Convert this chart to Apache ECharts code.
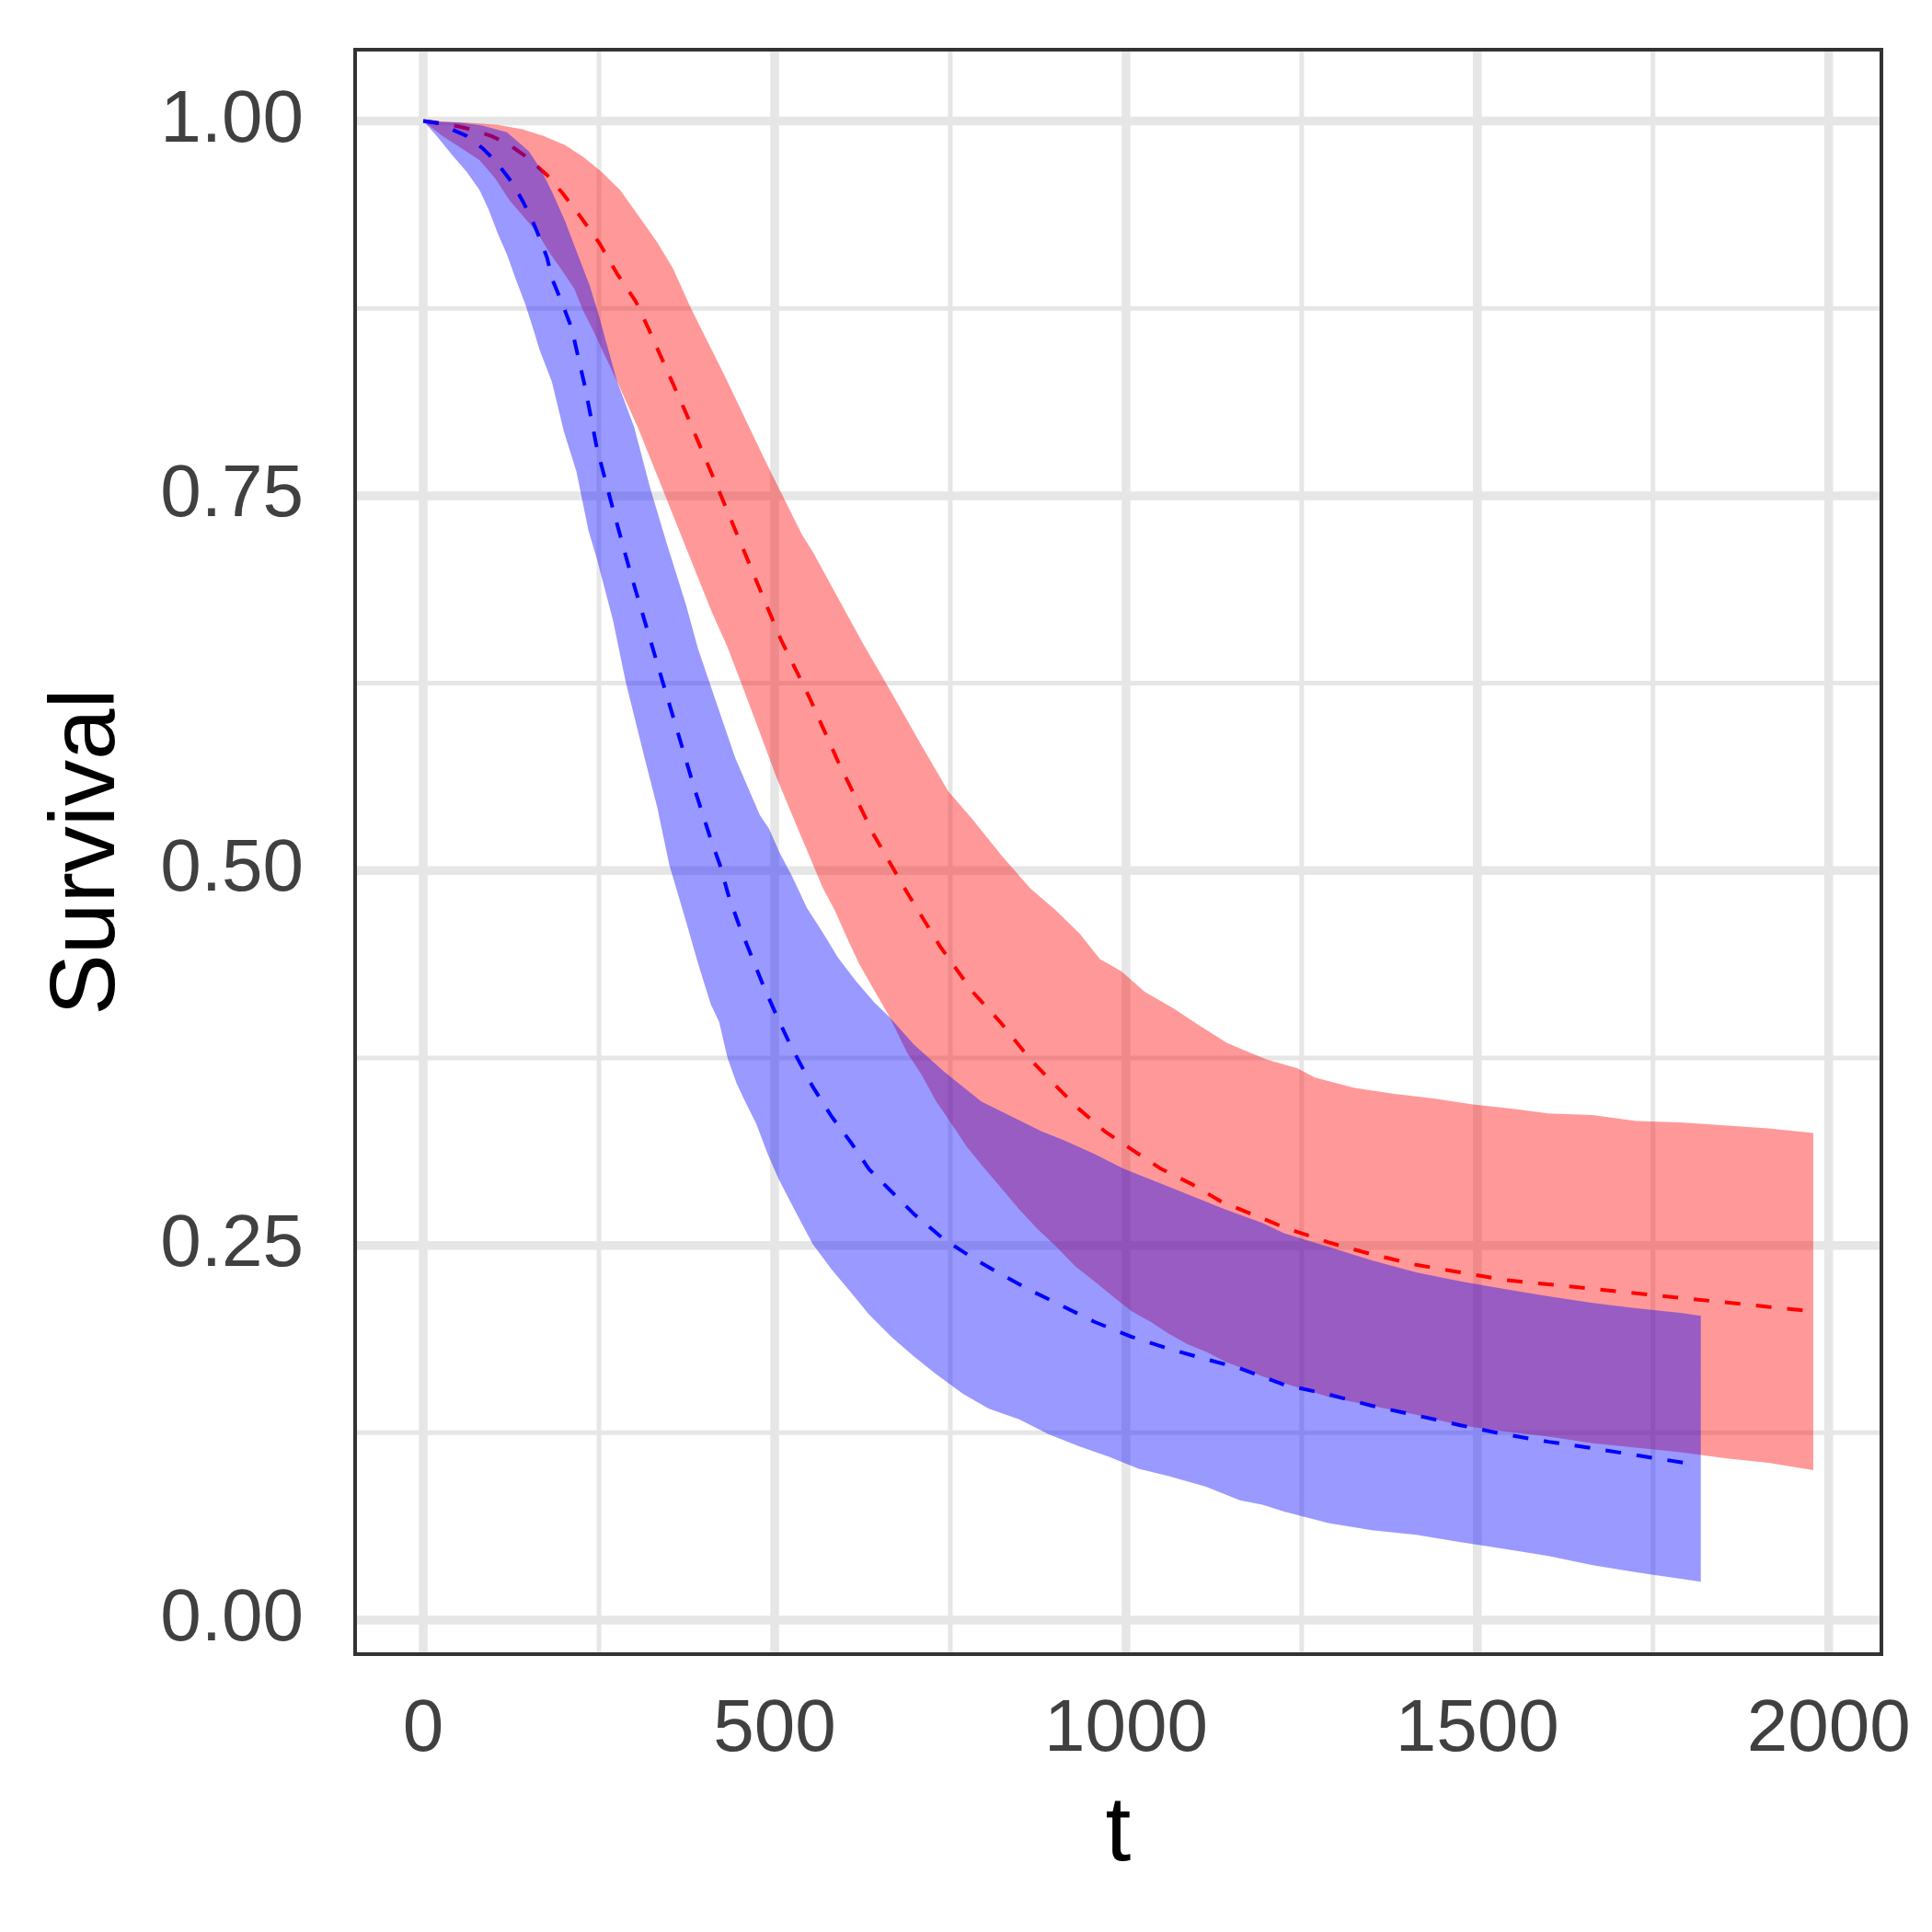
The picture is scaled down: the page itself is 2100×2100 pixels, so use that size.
<!DOCTYPE html>
<html><head><meta charset="utf-8">
<script src="https://cdn.jsdelivr.net/npm/echarts@6/dist/echarts.min.js"></script>
<style>html,body{margin:0;padding:0;background:#fff}#chart{width:2100px;height:2100px}</style>
</head><body><div id="chart"></div>
<script>
// Axis ticks / gridlines
const xTicks = [0, 500, 1000, 1500, 2000];
const xMinor = [250, 750, 1250, 1750];
const yTicks = [0, 0.25, 0.5, 0.75, 1];
const yMinor = [0.125, 0.375, 0.625, 0.875];

// Red group: [t, S]
const redUpper = [[0,1.000],[62,0.999],[106,0.9975],[141,0.9945],[171,0.990],[202,0.984],[228,0.976],[254,0.966],[280,0.954],[306,0.937],[333,0.919],[355,0.902],[381,0.875],[428,0.831],[486,0.774],[539,0.724],[555,0.712],[590,0.682],[625,0.652],[666,0.619],[712,0.581],[747,0.553],[782,0.534],[823,0.510],[864,0.488],[899,0.474],[934,0.458],[963,0.441],[993,0.433],[1027,0.419],[1068,0.408],[1103,0.397],[1144,0.385],[1179,0.378],[1200,0.374],[1244,0.368],[1269,0.362],[1325,0.355],[1382,0.351],[1438,0.348],[1494,0.344],[1551,0.341],[1601,0.338],[1664,0.337],[1726,0.333],[1789,0.332],[1852,0.330],[1914,0.328],[1978,0.325]];
const redMean = [[0,1.000],[19,0.999],[49,0.9965],[67,0.9945],[97,0.990],[123,0.984],[150,0.975],[176,0.964],[198,0.952],[224,0.936],[250,0.919],[276,0.898],[302,0.880],[320,0.862],[375,0.804],[422,0.752],[468,0.700],[509,0.654],[549,0.616],[590,0.573],[642,0.523],[689,0.485],[736,0.449],[782,0.419],[821,0.399],[864,0.374],[901,0.356],[933,0.341],[970,0.326],[1008,0.314],[1050,0.301],[1093,0.291],[1136,0.279],[1189,0.269],[1225,0.262],[1288,0.252],[1350,0.244],[1413,0.237],[1476,0.232],[1538,0.227],[1601,0.224],[1664,0.221],[1726,0.218],[1789,0.215],[1852,0.212],[1914,0.209],[1978,0.206]];
const redLower = [[0,1.000],[27,0.990],[54,0.982],[80,0.974],[102,0.962],[123,0.947],[145,0.935],[163,0.925],[180,0.912],[198,0.900],[215,0.888],[228,0.873],[241,0.861],[276,0.826],[305,0.796],[329,0.768],[352,0.741],[381,0.707],[411,0.672],[432,0.650],[455,0.622],[479,0.592],[502,0.563],[533,0.528],[551,0.508],[568,0.489],[586,0.473],[603,0.455],[620,0.438],[642,0.420],[664,0.402],[688,0.379],[709,0.364],[730,0.346],[752,0.331],[773,0.316],[794,0.304],[821,0.289],[848,0.274],[874,0.261],[901,0.249],[928,0.236],[955,0.226],[981,0.216],[1008,0.206],[1035,0.199],[1061,0.191],[1088,0.184],[1114,0.179],[1141,0.1725],[1168,0.1675],[1195,0.1625],[1225,0.158],[1288,0.149],[1350,0.143],[1413,0.137],[1476,0.130],[1538,0.126],[1601,0.1225],[1664,0.118],[1726,0.115],[1789,0.112],[1852,0.108],[1914,0.105],[1978,0.100]];

// Blue group: [t, S]
const blueUpper = [[0,1.000],[50,0.999],[84,0.997],[119,0.9925],[150,0.980],[167,0.968],[184,0.952],[202,0.933],[219,0.912],[237,0.890],[250,0.870],[276,0.826],[300,0.796],[323,0.755],[346,0.719],[374,0.677],[391,0.648],[420,0.608],[444,0.575],[479,0.537],[492,0.528],[507,0.512],[525,0.496],[546,0.475],[568,0.459],[590,0.442],[616,0.426],[642,0.412],[664,0.402],[698,0.384],[741,0.366],[794,0.346],[837,0.336],[880,0.326],[912,0.320],[955,0.311],[997,0.301],[1035,0.294],[1088,0.284],[1141,0.274],[1194,0.265],[1225,0.258],[1288,0.249],[1350,0.240],[1413,0.232],[1476,0.226],[1538,0.221],[1601,0.216],[1664,0.2116],[1726,0.208],[1789,0.205],[1818,0.203]];
const blueMean = [[0,1.000],[23,0.9985],[45,0.9935],[62,0.990],[84,0.982],[97,0.976],[115,0.966],[128,0.958],[141,0.947],[154,0.935],[163,0.925],[176,0.909],[184,0.894],[198,0.878],[211,0.862],[230,0.823],[247,0.782],[270,0.741],[294,0.700],[316,0.665],[340,0.627],[368,0.583],[385,0.556],[409,0.521],[422,0.504],[434,0.484],[449,0.464],[467,0.443],[484,0.423],[503,0.403],[523,0.383],[547,0.362],[554,0.356],[581,0.336],[608,0.319],[634,0.301],[666,0.286],[698,0.271],[741,0.254],[784,0.241],[821,0.231],[864,0.220],[912,0.209],[955,0.199],[1008,0.189],[1061,0.181],[1114,0.174],[1162,0.168],[1225,0.157],[1288,0.1506],[1350,0.143],[1413,0.1366],[1476,0.130],[1538,0.124],[1601,0.119],[1664,0.1147],[1726,0.110],[1798,0.1047]];
const blueLower = [[0,1.000],[19,0.990],[40,0.978],[62,0.966],[80,0.954],[93,0.941],[106,0.925],[119,0.911],[132,0.894],[145,0.878],[158,0.859],[165,0.848],[183,0.826],[200,0.793],[218,0.766],[235,0.727],[247,0.708],[270,0.667],[288,0.626],[315,0.575],[333,0.542],[350,0.504],[374,0.466],[391,0.438],[409,0.411],[421,0.399],[433,0.375],[446,0.358],[458,0.346],[474,0.331],[490,0.311],[506,0.294],[528,0.274],[554,0.251],[581,0.234],[608,0.219],[634,0.204],[666,0.189],[698,0.176],[730,0.164],[768,0.151],[805,0.141],[848,0.134],[890,0.124],[933,0.116],[976,0.109],[1018,0.101],[1061,0.096],[1114,0.089],[1162,0.080],[1194,0.077],[1225,0.0725],[1288,0.0647],[1350,0.060],[1413,0.0569],[1476,0.052],[1538,0.0475],[1601,0.0428],[1664,0.0366],[1726,0.0319],[1818,0.0256]];

const FONT = 'Liberation Sans, Arial, Helvetica, sans-serif';

function vGrid(values, width) {
  return {
    type: 'custom', z: 1, silent: true, animation: false,
    data: values.map(v => [v, 0.5]),
    renderItem: function (params, api) {
      const cs = params.coordSys;
      const x = api.coord([api.value(0), 0.5])[0];
      return { type: 'line', shape: { x1: x, y1: cs.y, x2: x, y2: cs.y + cs.height },
               style: { stroke: '#E6E6E6', lineWidth: width } };
    }
  };
}
function hGrid(values, width) {
  return {
    type: 'custom', z: 1, silent: true, animation: false,
    data: values.map(v => [1000, v]),
    renderItem: function (params, api) {
      const cs = params.coordSys;
      const y = api.coord([1000, api.value(1)])[1];
      return { type: 'line', shape: { x1: cs.x, y1: y, x2: cs.x + cs.width, y2: y },
               style: { stroke: '#E6E6E6', lineWidth: width } };
    }
  };
}
function ribbon(upper, lower, fill, z) {
  return {
    type: 'custom', z: z, silent: true, animation: false, clip: true,
    data: [[upper[0][0], upper[0][1]]],
    renderItem: function (params, api) {
      const pts = [];
      upper.forEach(p => pts.push(api.coord(p)));
      for (let i = lower.length - 1; i >= 0; i--) pts.push(api.coord(lower[i]));
      return { type: 'polygon', shape: { points: pts }, style: { fill: fill } };
    }
  };
}
function dashed(data, color, z) {
  return {
    type: 'line', z: z, data: data, showSymbol: false, symbol: 'none',
    silent: true, animation: false,
    lineStyle: { color: color, width: 4, type: [17, 17], cap: 'butt' }
  };
}

const chart = echarts.init(document.getElementById('chart'), null, { renderer: 'canvas' });
chart.setOption({
  backgroundColor: '#FFFFFF',
  animation: false,
  grid: { left: 386, right: 55, top: 54, bottom: 302, show: true, z: 10,
          borderColor: '#333333', borderWidth: 4, backgroundColor: 'transparent' },
  xAxis: {
    type: 'value', min: -97, max: 2075,
    name: 't', nameLocation: 'middle', nameGap: 146,
    nameTextStyle: { fontSize: 100, color: '#000000', fontFamily: FONT },
    axisLine: { show: false },
    axisTick: { show: true, length: 26, customValues: xTicks, lineStyle: { color: '#333333', width: 4.5 } },
    axisLabel: { customValues: xTicks, margin: 43, fontSize: 80, color: '#404040', fontFamily: FONT,
                 formatter: v => String(v) },
    splitLine: { show: false }
  },
  yAxis: {
    type: 'value', min: -0.0227, max: 1.0476,
    name: 'Survival', nameLocation: 'middle', nameGap: 240, nameRotate: 90,
    nameTextStyle: { fontSize: 100, color: '#000000', fontFamily: FONT },
    axisLine: { show: false },
    axisTick: { show: true, length: 26, customValues: yTicks, lineStyle: { color: '#333333', width: 4.5 } },
    axisLabel: { customValues: yTicks, margin: 56, fontSize: 80, color: '#404040', fontFamily: FONT,
                 formatter: v => Number(v).toFixed(2) },
    splitLine: { show: false }
  },
  series: [
    vGrid(xMinor, 5), hGrid(yMinor, 5), vGrid(xTicks, 9.5), hGrid(yTicks, 9.5),
    ribbon(redUpper, redLower, 'rgba(255,0,0,0.4)', 2),
    dashed(redMean, '#FF0000', 3),
    ribbon(blueUpper, blueLower, 'rgba(0,0,255,0.4)', 4),
    dashed(blueMean, '#0000FF', 5)
  ]
});
</script></body></html>
